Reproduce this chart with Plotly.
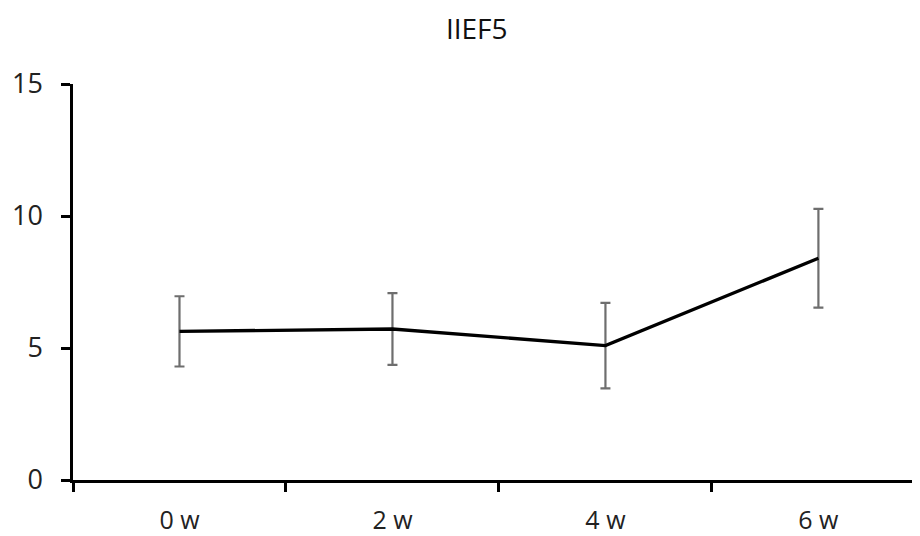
import plotly.graph_objects as go

categories = ["0 w", "2 w", "4 w", "6 w"]
means = [5.63, 5.72, 5.09, 8.40]
errors = [1.33, 1.36, 1.62, 1.87]
y_ticks = [0, 5, 10, 15]

fig = go.Figure()
fig.add_trace(go.Scatter(
    x=categories, y=means, mode="lines",
    line=dict(color="black", width=3.3),
    error_y=dict(type="data", array=errors, visible=True,
                 color="#6e6e6e", thickness=2.2, width=5),
    showlegend=False, hoverinfo="skip",
))

yfont = dict(family="Open Sans", size=27, color="#222222")
xfont = dict(family="Open Sans", size=25, color="#222222")
fig.update_layout(
    width=912, height=528,
    margin=dict(l=65, r=0, t=76, b=53),
    paper_bgcolor="white", plot_bgcolor="white",
    title=dict(text="IIEF5", x=0.514, xanchor="center", y=0.96, yanchor="middle",
               font=dict(family="Open Sans", size=28, color="#111111")),
    xaxis=dict(type="category", range=[-0.5, 3.477], tickson="boundaries",
               showline=True, linecolor="black", linewidth=2.5,
               ticks="outside", ticklen=9, tickwidth=2.5, tickcolor="black",
               showgrid=False, zeroline=False, tickfont=xfont,
               ticklabelstandoff=16),
    yaxis=dict(range=[0, 15], tickvals=y_ticks,
               showline=True, linecolor="black", linewidth=2.5,
               ticks="outside", ticklen=9, tickwidth=2.5, tickcolor="black",
               showgrid=False, zeroline=False, tickfont=yfont,
               ticklabelstandoff=13),
)

fig.write_html("out.html")
